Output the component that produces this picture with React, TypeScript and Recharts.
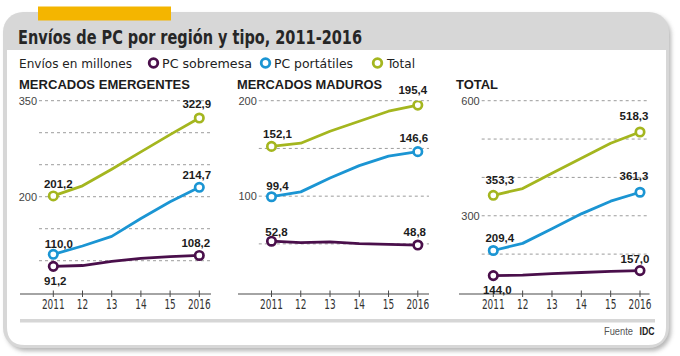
import React from "react";
import { LineChart, Line, XAxis, YAxis, ReferenceLine, LabelList } from "recharts";

const YEARS = [2011, 2012, 2013, 2014, 2015, 2016];
const YEAR_LABELS = ["2011", "12", "13", "14", "15", "2016"];

// Envíos en millones
const EMERG_SOBREMESA = [91.2, 92.5, 99.0, 103.5, 106.5, 108.2];
const EMERG_PORTATILES = [110.0, 123.0, 138.0, 166.0, 192.0, 214.7];
const EMERG_TOTAL = [201.2, 217.0, 243.0, 270.0, 297.0, 322.9];

const MAD_SOBREMESA = [52.8, 51.4, 52.1, 50.3, 49.5, 48.8];
const MAD_PORTATILES = [99.4, 104.5, 119.0, 132.0, 142.0, 146.6];
const MAD_TOTAL = [152.1, 155.5, 168.0, 178.5, 189.0, 195.4];

const TOT_SOBREMESA = [144.0, 145.0, 149.0, 152.0, 155.0, 157.0];
const TOT_PORTATILES = [209.4, 228.0, 266.0, 305.0, 338.0, 361.3];
const TOT_TOTAL = [353.3, 371.0, 411.0, 450.0, 489.0, 518.3];

const EMERG_GRID = [100, 150, 200, 250, 300, 350];
const EMERG_TICKS = [200, 350];
const MAD_GRID = [50, 100, 150, 200];
const MAD_TICKS = [100, 200];
const TOT_GRID = [200, 300, 400, 500, 600];
const TOT_TICKS = [300, 600];

const GREEN = "#a4b61f";
const BLUE = "#1b95d3";
const PURPLE = "#4a0f4b";
const GRID = "#9c9c9c";
const AXIS = "#4a4a4a";
const TEXT = "#1c1c1c";

const NARROW = "'Liberation Sans Narrow', 'DejaVu Sans Condensed', 'Liberation Sans', sans-serif";
const SANS = "'Liberation Sans', Arial, sans-serif";

const SERIES = [
  { key: "sobremesa", color: PURPLE },
  { key: "portatiles", color: BLUE },
  { key: "total", color: GREEN },
];

// layout per panel (pixels) + label nudges [dx first, dy first, dx last, dy last]
const PANELS = [
  {
    title: "MERCADOS EMERGENTES",
    sobremesa: EMERG_SOBREMESA, portatiles: EMERG_PORTATILES, total: EMERG_TOTAL,
    grid: EMERG_GRID, ticks: EMERG_TICKS, domain: [48, 350],
    axisLeft: 20, axisRight: 211, x2011: 53.3, x2016: 199.3, gridLeft: 39,
    offsets: { total: [5, -7.5, -2.5, -10], portatiles: [5.5, -6, -2.5, -8], sobremesa: [2, 18.5, -3.5, -8.5] },
  },
  {
    title: "MERCADOS MADUROS",
    sobremesa: MAD_SOBREMESA, portatiles: MAD_PORTATILES, total: MAD_TOTAL,
    grid: MAD_GRID, ticks: MAD_TICKS, domain: [-2.5, 200],
    axisLeft: 237.5, axisRight: 428.5, x2011: 271, x2016: 417.3, gridLeft: 258.3,
    offsets: { total: [6, -8, -5, -11], portatiles: [6, -6.5, -4, -10], sobremesa: [5, -5, -3, -9] },
  },
  {
    title: "TOTAL",
    sobremesa: TOT_SOBREMESA, portatiles: TOT_PORTATILES, total: TOT_TOTAL,
    grid: TOT_GRID, ticks: TOT_TICKS, domain: [96, 600],
    axisLeft: 459, axisRight: 649.5, x2011: 493.3, x2016: 640, gridLeft: 481.7,
    offsets: { total: [6.5, -11.5, -6, -12.5], portatiles: [6.5, -8.5, -6, -12], sobremesa: [4, 18, -5, -8] },
  },
];

const fmt = (v: number) => v.toFixed(1).replace(".", ",");

function YearTick(props: any) {
  const { x, y, index } = props;
  const label = YEAR_LABELS[index];
  return (
    <g>
      <line x1={x} x2={x} y1={y - 3.5} y2={y + 3} stroke={AXIS} strokeWidth={1} />
      <text
        x={x}
        y={y + 14.5}
        textAnchor="middle"
        fontFamily={NARROW}
        fontSize={13.5}
        fill="#333"
        textLength={label.length * 5.7}
        lengthAdjust="spacingAndGlyphs"
      >
        {label}
      </text>
    </g>
  );
}

function Panel({ p }: { p: any }) {
  const rows = YEARS.map((year, i) => ({
    year,
    sobremesa: p.sobremesa[i],
    portatiles: p.portatiles[i],
    total: p.total[i],
  }));
  const pxPerYear = (p.x2016 - p.x2011) / 5;
  const xMin = 2011 - (p.x2011 - p.axisLeft) / pxPerYear;
  const xMax = 2016 + (p.axisRight - p.x2016) / pxPerYear;
  const gridStart = 2011 - (p.x2011 - p.gridLeft) / pxPerYear;
  const last = YEARS.length - 1;

  return (
    <div style={{ position: "absolute", left: p.axisLeft - 20, top: 80 }}>
      <LineChart
        width={p.axisRight - p.axisLeft + 40}
        height={240}
        data={rows}
        margin={{ top: 20.7, right: 20, bottom: 0, left: 20 }}
      >
        <XAxis
          type="number"
          dataKey="year"
          domain={[xMin, xMax]}
          allowDataOverflow
          ticks={YEARS}
          interval={0}
          height={26}
          tickSize={0}
          tickMargin={0}
          tickLine={false}
          axisLine={{ stroke: AXIS, strokeWidth: 1.2 }}
          tick={<YearTick />}
        />
        <YAxis hide type="number" domain={p.domain} allowDataOverflow />
        {p.grid.map((v: number) => (
          <ReferenceLine
            key={v}
            segment={[{ x: gridStart, y: v }, { x: xMax, y: v }]}
            stroke={GRID}
            strokeDasharray="3 3"
            strokeWidth={1}
            label={
              p.ticks.includes(v)
                ? { value: String(v), position: "left", offset: 2, fill: "#444", fontSize: 11, fontFamily: SANS }
                : undefined
            }
          />
        ))}
        {SERIES.map((s) => (
          <Line
            key={s.key}
            type="linear"
            dataKey={s.key}
            stroke={s.color}
            strokeWidth={2.8}
            strokeLinejoin="round"
            isAnimationActive={false}
            dot={(d: any) =>
              d.index === 0 || d.index === last ? (
                <circle key={`d${d.index}`} cx={d.cx} cy={d.cy} r={4.2} fill="#fff" stroke={s.color} strokeWidth={2.7} />
              ) : (
                <g key={`d${d.index}`} />
              )
            }
            activeDot={false}
          >
            <LabelList
              dataKey={s.key}
              content={(l: any) => {
                if (l.index !== 0 && l.index !== last) return null;
                const o = p.offsets[s.key];
                const dx = l.index === 0 ? o[0] : o[2];
                const dy = l.index === 0 ? o[1] : o[3];
                return (
                  <text
                    x={l.x + dx}
                    y={l.y + dy}
                    textAnchor="middle"
                    fontFamily={SANS}
                    fontWeight="bold"
                    fontSize={11.5}
                    fill={TEXT}
                  >
                    {fmt(Number(l.value))}
                  </text>
                );
              }}
            />
          </Line>
        ))}
      </LineChart>
    </div>
  );
}

export default function App() {
  return (
    <div style={{ position: "absolute", left: 0, top: 0, width: 680, height: 356, background: "#fff", overflow: "hidden" }}>
      <svg width={680} height={356} style={{ position: "absolute", left: 0, top: 0 }}>
        <defs>
          <filter id="sh" x="-5%" y="-5%" width="110%" height="115%">
            <feGaussianBlur stdDeviation="2" />
          </filter>
        </defs>
        <rect x={6} y={15} width={665} height={336} rx={20} fill="#6e6e6e" opacity={0.5} filter="url(#sh)" />
        <rect x={3} y={12} width={666} height={336} rx={20} fill="#d7d7d7" />
        <path d="M7 50 H666 V327 Q666 345 648 345 H25 Q7 345 7 327 Z" fill="#fff" />
        <rect x={38} y={6.5} width={133} height={14} fill="#f4b500" />
        <text x={18} y={43.5} fontFamily={NARROW} fontWeight="bold" fontSize={20} fill="#262626" textLength={344} lengthAdjust="spacingAndGlyphs">
          Envíos de PC por región y tipo, 2011-2016
        </text>
        <text x={19} y={67.5} fontFamily={NARROW} fontSize={13} fill="#222" textLength={113} lengthAdjust="spacingAndGlyphs">
          Envíos en millones
        </text>
        <circle cx={153.5} cy={63} r={4.3} fill="#fff" stroke={PURPLE} strokeWidth={2.8} />
        <text x={162} y={67.5} fontFamily={NARROW} fontSize={13} fill="#222" textLength={90} lengthAdjust="spacingAndGlyphs">
          PC sobremesa
        </text>
        <circle cx={265.5} cy={63} r={4.3} fill="#fff" stroke={BLUE} strokeWidth={2.8} />
        <text x={274} y={67.5} fontFamily={NARROW} fontSize={13} fill="#222" textLength={79} lengthAdjust="spacingAndGlyphs">
          PC portátiles
        </text>
        <circle cx={377.5} cy={63} r={4.3} fill="#fff" stroke={GREEN} strokeWidth={2.8} />
        <text x={387} y={67.5} fontFamily={NARROW} fontSize={13} fill="#222" textLength={28} lengthAdjust="spacingAndGlyphs">
          Total
        </text>
        <text x={19} y={88.5} fontFamily={SANS} fontWeight="bold" fontSize={13} fill={TEXT} textLength={171} lengthAdjust="spacingAndGlyphs">
          MERCADOS EMERGENTES
        </text>
        <text x={237} y={88.5} fontFamily={SANS} fontWeight="bold" fontSize={13} fill={TEXT} textLength={145} lengthAdjust="spacingAndGlyphs">
          MERCADOS MADUROS
        </text>
        <text x={456} y={88.5} fontFamily={SANS} fontWeight="bold" fontSize={13} fill={TEXT} textLength={42} lengthAdjust="spacingAndGlyphs">
          TOTAL
        </text>
        <rect x={20} y={319} width={635} height={3.5} fill="#d6d6d6" />
        <text x={604} y={335} fontFamily={SANS} fontSize={10} fill="#555" textLength={29} lengthAdjust="spacingAndGlyphs">
          Fuente
        </text>
        <text x={639.5} y={335} fontFamily={SANS} fontWeight="bold" fontSize={10} fill={TEXT} textLength={15} lengthAdjust="spacingAndGlyphs">
          IDC
        </text>
      </svg>
      {PANELS.map((p) => (
        <Panel key={p.title} p={p} />
      ))}
    </div>
  );
}
